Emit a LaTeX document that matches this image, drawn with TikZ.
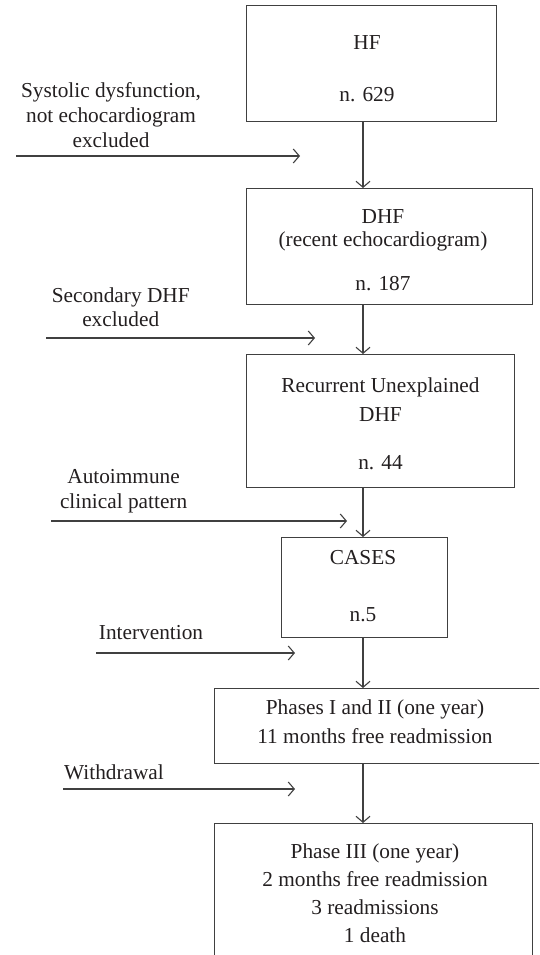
\documentclass[tikz,border=0pt]{standalone}
\usepackage{fontspec}
\setmainfont{Liberation Serif}
\usetikzlibrary{arrows.meta}
\definecolor{lc}{RGB}{64,64,64}
\definecolor{tc}{RGB}{35,31,32}
\begin{document}
\begin{tikzpicture}[x=1pt,y=-1pt,
  box/.style={draw=lc, line width=1.1pt, inner sep=0pt, fill=none},
  txt/.style={text=tc, font=\fontsize{21.3}{26}\selectfont, inner sep=0pt, align=center, anchor=base},
  flow/.style={draw=lc, line width=1.1pt, -{Straight Barb[length=6pt,width=14pt,line width=1.1pt]}}]
\path[use as bounding box] (0,0) rectangle (539,955);
\clip (0,0) rectangle (539,955);

% boxes
\node[box, minimum width=250pt, minimum height=116pt, anchor=north west] (hf) at (246,5) {};
\node[box, minimum width=286pt, minimum height=116pt, anchor=north west] (dhf) at (246,188) {};
\node[box, minimum width=268pt, minimum height=133pt, anchor=north west] (rud) at (246,354) {};
\node[box, minimum width=166.5pt, minimum height=100pt, anchor=north west] (cases) at (280.5,537) {};
\node[box, minimum width=346pt, minimum height=75pt, anchor=north west] (ph12) at (214,688) {};
\node[box, minimum width=318pt, minimum height=167pt, anchor=north west] (ph3) at (214,823) {};

% box texts (base anchor = baseline of the last line)
\node[txt] (hft) at (367,102) {HF\\[26pt]n. 629};
\node[txt] (dhft) at (383,290.5) {DHF\\[-2.5pt](recent echocardiogram)\\[18pt]n. 187};
\node[txt] (rudt) at (380.5,469.5) {Recurrent Unexplained\\[2.7pt]DHF\\[22.3pt]n. 44};
\node[txt] (casest) at (363,621.5) {CASES\\[31pt]n.5};
\node[txt] (ph12t) at (375,743.5) {Phases I and II (one year)\\[3pt]11 months free readmission};
\node[txt] (ph3t) at (375,942.5) {Phase III (one year)\\[2pt]2 months free readmission\\[2pt]3 readmissions\\[2pt]1 death};

% main flow
\coordinate (ax) at (363,0);
\draw[flow] (hf.south -| ax) -- (dhf.north -| ax);
\draw[flow] (dhf.south -| ax) -- (rud.north -| ax);
\draw[flow] (rud.south -| ax) -- (cases.north -| ax);
\draw[flow] (cases.south -| ax) -- (ph12.north -| ax);
\draw[flow] (ph12.south -| ax) -- (ph3.north -| ax);

% side arrows
\coordinate (s1) at (16,156);  \coordinate (e1) at (300,156);
\coordinate (s2) at (46,338);  \coordinate (e2) at (315,338);
\coordinate (s3) at (51,521);  \coordinate (e3) at (347,521);
\coordinate (s4) at (96,653);  \coordinate (e4) at (295,653);
\coordinate (s5) at (63,789);  \coordinate (e5) at (295,789);
\draw[flow] (s1) -- (e1);
\draw[flow] (s2) -- (e2);
\draw[flow] (s3) -- (e3);
\draw[flow] (s4) -- (e4);
\draw[flow] (s5) -- (e5);

% side labels
\node[txt] (l1) at (111,147) {Systolic dysfunction,\\[-1pt]not echocardiogram\\[-1pt]excluded};
\node[txt] (l2) at (120.7,326.7) {Secondary DHF\\[-1.3pt]excluded};
\node[txt] (l3) at (123.6,508) {Autoimmune\\[-1pt]clinical pattern};
\node[txt] (l4) at (151,639) {Intervention};
\node[txt] (l5) at (114,779) {Withdrawal};
\end{tikzpicture}
\end{document}
